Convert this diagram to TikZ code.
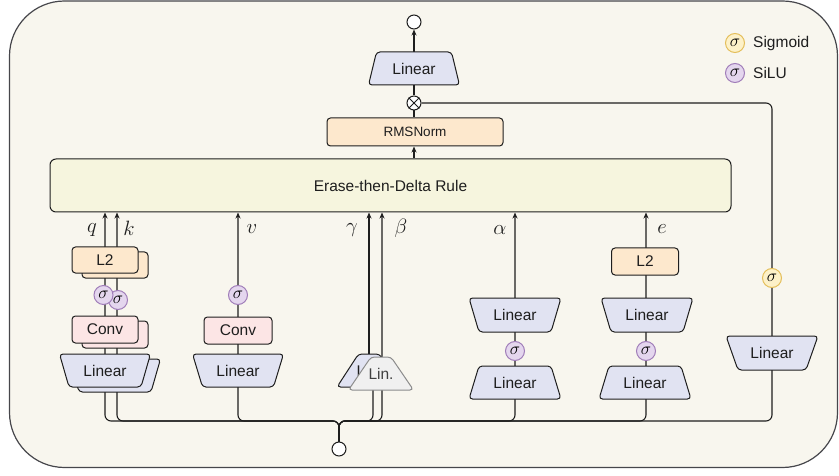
\documentclass[tikz,border=0pt]{standalone}
\usepackage{fontspec}
\setmainfont{Liberation Sans}
\usetikzlibrary{arrows.meta,calc}
\pgfdeclarelayer{bg}
\pgfdeclarelayer{wires}
\pgfsetlayers{bg,wires,main}

\definecolor{framefill}{RGB}{248,246,238}
\definecolor{framedraw}{RGB}{70,70,75}
\definecolor{erasefill}{RGB}{246,245,222}
\definecolor{orangefill}{RGB}{253,232,205}
\definecolor{pinkfill}{RGB}{252,229,229}
\definecolor{linfill}{RGB}{225,227,242}
\definecolor{silufill}{RGB}{228,214,238}
\definecolor{siludraw}{RGB}{160,125,185}
\definecolor{sigfill}{RGB}{253,241,200}
\definecolor{sigdraw}{RGB}{228,190,90}
\definecolor{ink}{RGB}{30,30,30}
\definecolor{graylin}{RGB}{240,240,240}
\definecolor{graydraw}{RGB}{140,140,140}

\newcommand\mainf{\fontsize{15.5}{18}\selectfont}
\newcommand\smallf{\fontsize{13.5}{16}\selectfont}
\newcommand\sigf{\fontsize{17}{18}\selectfont}
\newcommand\lblf{\fontsize{20}{24}\selectfont}

% name, x, y, top half-width, bottom half-width, half-height, style, text
\newcommand\trapz[8]{%
  \draw[boxline,#7,shift={(#2,#3)}] (-#4,-#6) -- (#4,-#6) -- (#5,#6) -- (-#5,#6) -- cycle;
  \node[txt, minimum height={2*#6}] (#1) at (#2,#3) {#8};
}

\begin{document}
\begin{tikzpicture}[
  x=1pt, y=-1pt,
  wire/.style={draw=ink, line width=1.1pt},
  arr/.style={-{Stealth[length=6pt,width=5pt]}},
  boxline/.style={draw=ink, line width=1pt, rounded corners=3.5pt},
  rbox/.style={boxline, inner sep=0pt, font=\mainf, text=ink},
  txt/.style={inner sep=0pt, font=\mainf, text=ink},
  silu/.style={circle, draw=siludraw, fill=silufill, line width=1pt, minimum size=19pt, inner sep=0pt, font=\sigf},
  sigm/.style={circle, draw=sigdraw, fill=sigfill, line width=1pt, minimum size=19pt, inner sep=0pt, font=\sigf},
  lbl/.style={font=\lblf, inner sep=0pt, text=ink},
  port/.style={circle, draw=ink, fill=white, line width=1pt, minimum size=14pt, inner sep=0pt},
  linf/.style={fill=linfill},
]
\useasboundingbox (0,0) rectangle (839,476);
\begin{pgfonlayer}{bg}
  \draw[draw=framedraw, fill=framefill, line width=1.2pt, rounded corners=55pt] (9.5,1) rectangle (837.5,467.5);
\end{pgfonlayer}

% column coordinates
\coordinate (bus) at (0,421);
\coordinate (cq) at (105,0);
\coordinate (ck) at (117,0);
\coordinate (cv) at (238,0);
\coordinate (cgi) at (373,0);
\coordinate (cgo) at (369,0);
\coordinate (cb) at (382,0);
\coordinate (ca) at (515,0);
\coordinate (ce) at (646,0);
\coordinate (cg) at (772,0);

% main blocks
\node[rbox, fill=erasefill, minimum width=681pt, minimum height=53pt, rounded corners=6pt] (erase) at (390.5,185.5) {Erase-then-Delta Rule};
\node[rbox, fill=orangefill, minimum width=176pt, minimum height=28pt, font=\smallf] (rms) at (415,132) {RMSNorm};
\node[port] (ot) at (414,103) {};
\draw[ink, line width=1pt] (ot.north east) -- (ot.south west) (ot.north west) -- (ot.south east);
\trapz{lintop}{414}{68.5}{37.5}{45.5}{16.5}{linf}{Linear}
\node[port] (outc) at (414,22) {};
\node[port] (inc) at (339,449) {};

% q / k column
\node[rbox, fill=orangefill, minimum width=66pt, minimum height=26pt] (l2k) at (115,265) {};
\node[rbox, fill=orangefill, minimum width=66pt, minimum height=26pt] (l2q) at (105,260) {L2};
\node[silu] (sk) at (118,300) {$\sigma$};
\node[silu] (sq) at (103.5,295) {$\sigma$};
\node[rbox, fill=pinkfill, minimum width=66pt, minimum height=27pt] (convk) at (115,334.5) {};
\node[rbox, fill=pinkfill, minimum width=66pt, minimum height=27pt] (convq) at (105,329.5) {Conv};
\trapz{link}{115}{375.5}{45.5}{36}{16.5}{linf}{}
\trapz{linq}{105}{370.5}{45.5}{36}{16.5}{linf}{Linear}

% v column
\node[silu] (sv) at (238,295) {$\sigma$};
\node[rbox, fill=pinkfill, minimum width=68pt, minimum height=27pt] (convv) at (238,330.5) {Conv};
\trapz{linv}{238}{370.5}{45.5}{35.5}{16.5}{linf}{Linear}

% gamma / beta column
\trapz{ling}{369}{370.5}{10.5}{32}{16.5}{linf}{Lin.}
\trapz{linb}{381}{373.5}{10}{32.5}{16.5}{fill=graylin, draw=graydraw}{\textcolor{ink!85}{Lin.}}

% alpha column
\trapz{lina1}{515}{315}{46}{36}{17}{linf}{Linear}
\node[silu] (sa) at (515,351) {$\sigma$};
\trapz{lina2}{515}{382.5}{36}{46}{16.5}{linf}{Linear}

% e column
\node[rbox, fill=orangefill, minimum width=67pt, minimum height=27pt] (l2e) at (645,261.5) {L2};
\trapz{line1}{647}{315}{46}{36}{17}{linf}{Linear}
\node[silu] (se) at (646,351) {$\sigma$};
\trapz{line2}{645}{382.5}{36}{46}{16.5}{linf}{Linear}

% gate column
\node[sigm] (sg) at (772,278) {$\sigma$};
\trapz{ling2}{772}{353}{46}{34}{17}{linf}{Linear}

% labels
\node[lbl] (lq) at (92,230) {$q$};
\node[lbl] (lk) at (129,228) {$k$};
\node[lbl] (lv) at (252,229) {$v$};
\node[lbl] (lgm) at (352,230) {$\gamma$};
\node[lbl] (lbt) at (401,228) {$\beta$};
\node[lbl] (lal) at (500,230) {$\alpha$};
\node[lbl] (le) at (662,229) {$e$};

% legend
\node[sigm] (legs) at (735,43) {$\sigma$};
\node[txt, anchor=west] (legst) at (753,43) {Sigmoid};
\node[silu] (legu) at (735,73) {$\sigma$};
\node[txt, anchor=west] (legut) at (753,73) {SiLU};

% wires
\begin{pgfonlayer}{wires}
  \draw[wire, arr, rounded corners=6pt] (inc.north) |- (cq |- bus) -- (cq |- erase.south);
  \draw[wire, arr, rounded corners=6pt] (inc.north) |- (ck |- bus) -- (ck |- erase.south);
  \draw[wire, arr, rounded corners=6pt] (inc.north) |- (cv |- bus) -- (cv |- erase.south);
  \draw[wire, rounded corners=6pt] (inc.north) |- (cgi |- bus) -- (cgi |- ling.south);
  \draw[wire, arr] (cgo |- ling.north) -- (cgo |- erase.south);
  \draw[wire, arr, rounded corners=6pt] (inc.north) |- (cb |- bus) -- (cb |- erase.south);
  \draw[wire, arr, rounded corners=6pt] (inc.north) |- (ca |- bus) -- (ca |- erase.south);
  \draw[wire, arr, rounded corners=6pt] (inc.north) |- (ce |- bus) -- (ce |- erase.south);
  \draw[wire, rounded corners=6pt] (inc.north) |- (cg |- bus) -- (cg |- ot) -- (ot.east);
  \draw[wire, arr] (erase.north -| ot) -- (rms.south -| ot);
  \draw[wire] (rms.north -| ot) -- (ot.south);
  \draw[wire] (ot.north) -- (lintop.south);
  \draw[wire, arr] (lintop.north) -- (outc.south);
\end{pgfonlayer}
\end{tikzpicture}
\end{document}
